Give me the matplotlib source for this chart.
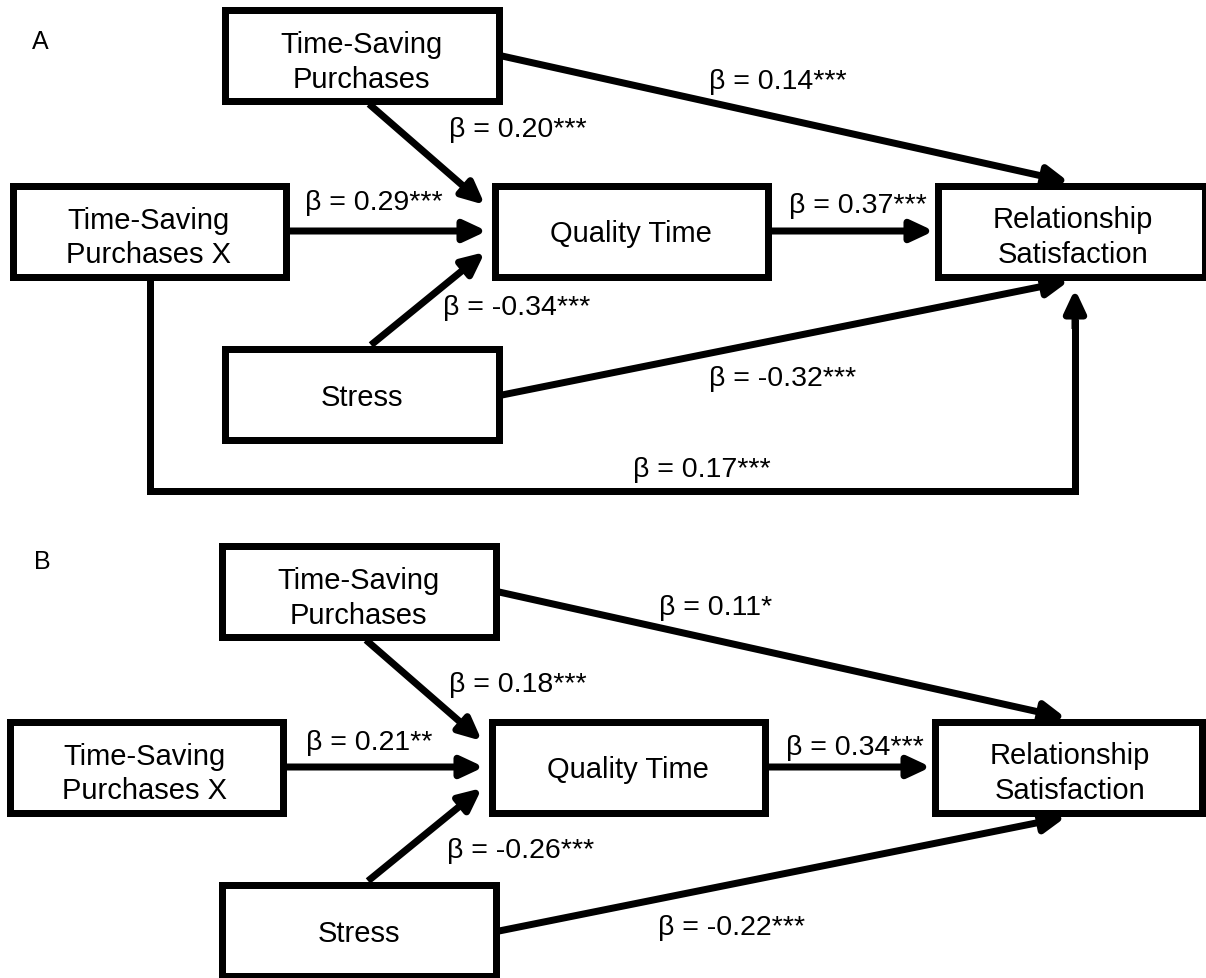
import matplotlib
matplotlib.use("Agg")
import matplotlib.pyplot as plt
from matplotlib.patches import Rectangle, FancyArrowPatch, ArrowStyle

# ---- data -------------------------------------------------------------
panel_letters = ["A", "B"]
node_names = ["TSP", "TSPX", "QT", "RS", "Stress"]
node_labels = ["Time-Saving\nPurchases", "Time-Saving\nPurchases X",
               "Quality Time", "Relationship\nSatisfaction", "Stress"]

path_names = ["TSP-RS", "TSP-QT", "TSPX-QT", "QT-RS", "Stress-QT", "Stress-RS", "TSPX-RS"]
beta_a = [0.14, 0.20, 0.29, 0.37, -0.34, -0.32, 0.17]
stars_a = ["***", "***", "***", "***", "***", "***", "***"]
beta_b = [0.11, 0.18, 0.21, 0.34, -0.26, -0.22]
stars_b = ["*", "***", "**", "***", "***", "***"]

# ---- layout (pixels, panel A; panel B is shifted) ----------------------
W, H = 1206, 979
LW = 7 * 72 / 100          # 7 px border / shaft
FS = 20.5                  # path labels
NODE_FS = 21               # box labels
FONT = ["Liberation Sans", "DejaVu Sans"]
LINE_PITCH = 34.5

boxes = {                         # outer x0, x1, y0, y1
    "TSP": (221, 502, 7, 105),
    "TSPX": (9, 289, 183, 281),
    "QT": (491, 771, 183, 281),
    "RS": (934, 1208, 183, 281),
    "Stress": (221, 502, 346, 444),
}
text_pos = {"TSP": (361.5, 60), "TSPX": (148, 235.5), "QT": (630.5, 232),
            "RS": (1073, 235), "Stress": (361.5, 396)}

arrows = {
    "TSP-RS": ((502, 57), (1069, 183)),
    "TSP-QT": ((369, 105), (485, 206)),
    "TSPX-QT": ((289, 232), (487, 232)),
    "QT-RS": ((771, 232), (934, 232)),
    "Stress-QT": ((371, 346), (485, 253)),
    "Stress-RS": ((502, 396), (1069, 282)),
}
bottom_path = [(149.5, 281), (149.5, 492), (1075, 492), (1075, 290)]

label_pos = [
    {"TSP-RS": (778, 79), "TSP-QT": (517.5, 127), "TSPX-QT": (373.5, 200),
     "QT-RS": (858, 203), "Stress-QT": (517, 305), "Stress-RS": (783, 376),
     "TSPX-RS": (702, 467)},
    {"TSP-RS": (715.5, 605), "TSP-QT": (517.5, 682), "TSPX-QT": (369, 740),
     "QT-RS": (854.5, 745), "Stress-QT": (521, 848), "Stress-RS": (732, 925)},
]
letter_pos = [(40, 40), (42, 560)]
offsets = [(0, 0), (-3, 536)]

head = ArrowStyle("-|>", head_length=13.5, head_width=6.3)


def arrow(ax, p0, p1):
    ax.add_patch(FancyArrowPatch(p0, p1, arrowstyle=head, mutation_scale=1,
                                 lw=LW, color="black", shrinkA=0, shrinkB=0,
                                 capstyle="butt"))


def put_text(ax, x, y, s, size=FS):
    # y is the visual middle of the digits / capitals
    ax.text(x, y + 0.358 * size * 100 / 72, s, ha="center", va="baseline",
            fontsize=size, family=FONT, color="black")


fig = plt.figure(figsize=(W / 100, H / 100), dpi=100)
ax = fig.add_axes([0, 0, 1, 1])
ax.set_xlim(0, W)
ax.set_ylim(H, 0)
ax.axis("off")

for k, letter in enumerate(panel_letters):
    dx, dy = offsets[k]
    betas = beta_a if k == 0 else beta_b
    stars = stars_a if k == 0 else stars_b

    for name, label in zip(node_names, node_labels):
        x0, x1, y0, y1 = boxes[name]
        h = LW * 100 / 72 / 2
        ax.add_patch(Rectangle((x0 + dx + h, y0 + dy + h), x1 - x0 - 2 * h, y1 - y0 - 2 * h,
                               fill=False, lw=LW, ec="black", joinstyle="miter"))
        tx, ty = text_pos[name]
        lines = label.split("\n")
        for i, line in enumerate(lines):
            put_text(ax, tx + dx, ty + dy + (i - (len(lines) - 1) / 2) * LINE_PITCH,
                     line, size=NODE_FS)

    for name, b, s in zip(path_names, betas, stars):
        if name in arrows:
            (ax0, ay0), (ax1, ay1) = arrows[name]
            arrow(ax, (ax0 + dx, ay0 + dy), (ax1 + dx, ay1 + dy))
        else:
            # the long path runs under the stress box and up into the outcome
            xs = [p[0] + dx for p in bottom_path]
            ys = [p[1] + dy for p in bottom_path]
            ax.plot(xs, ys[:-1] + [ys[-1] + 30], color="black", lw=LW,
                    solid_joinstyle="miter", solid_capstyle="butt")
            arrow(ax, (xs[-1], ys[-1] + 40), (xs[-1], ys[-1]))
        lx, ly = label_pos[k][name]
        put_text(ax, lx, ly, f"\u03b2 = {b:.2f}{s}")

    put_text(ax, letter_pos[k][0], letter_pos[k][1], letter, size=18)

fig.savefig("out.png", dpi=100)
